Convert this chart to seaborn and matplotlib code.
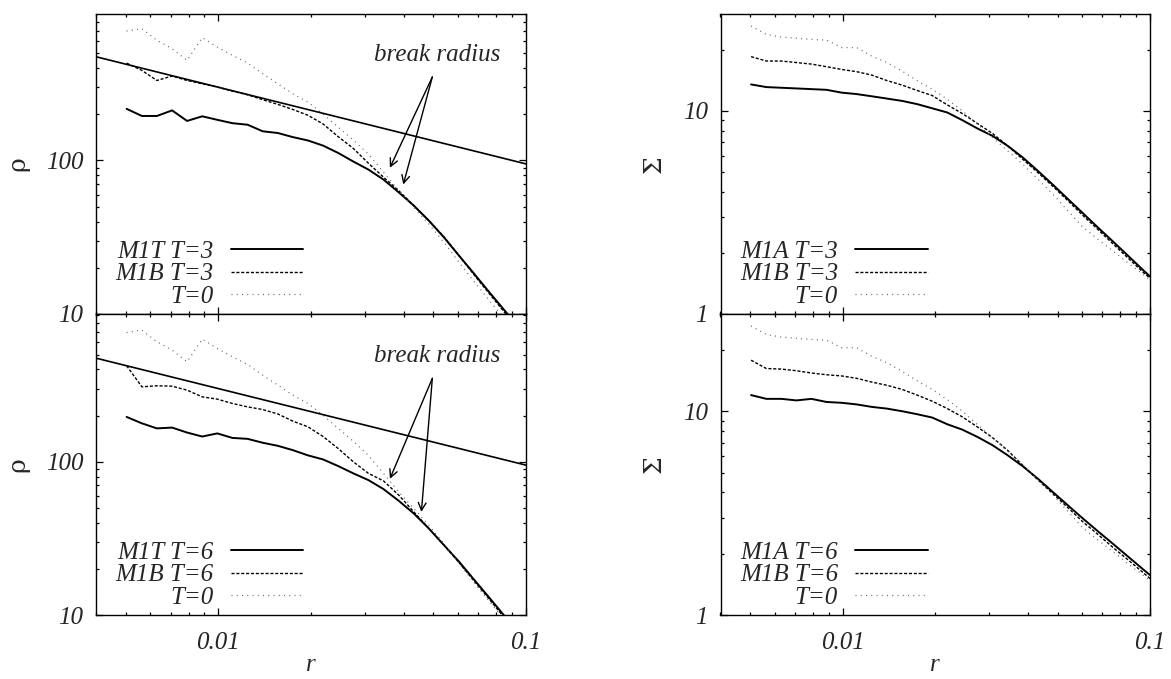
import numpy as np
import pandas as pd
import matplotlib
matplotlib.use("Agg")
import matplotlib.pyplot as plt
import seaborn as sns
from matplotlib.ticker import FixedLocator, NullFormatter, FixedFormatter

# ---------------- data ----------------
r = [0.00503, 0.00564, 0.00631, 0.00707, 0.00791, 0.00886, 0.00992, 0.0111,
     0.01244, 0.01393, 0.0156, 0.01746, 0.01955, 0.02189, 0.02451, 0.02744,
     0.03073, 0.03441, 0.03853, 0.04314, 0.04831, 0.05408, 0.06056, 0.0678,
     0.0759, 0.085, 0.0952, 0.1]

rho_T0 = [697, 722, 606, 535, 449, 631, 548, 484, 431, 367, 316, 272, 240, 201,
          165, 136, 110, 84, 63.7, 49.6, 38.6, 29.3, 21.7, 16.3, 12.3, 9.3, 7.0, 6.2]
rho_M1T_T3 = [217, 195, 195, 212, 181, 194, 184, 175, 171, 155, 151, 142, 135, 125,
              112, 98.5, 87.3, 75.1, 62.1, 50.9, 40.6, 31.6, 24.0, 18.3, 13.9, 10.6, 8.1, 7.2]
rho_M1B_T3 = [431, 386, 332, 355, 332, 316, 301, 283, 268, 249, 232, 215, 197, 173,
              143, 120, 96, 77.9, 63.7, 50.9, 40.6, 31.9, 24.0, 18.0, 13.6, 10.3, 7.8, 6.9]
rho_M1T_T6 = [196, 178, 165, 167, 155, 146, 153, 143, 141, 133, 127, 119, 110, 103.5,
              93.7, 84, 75.9, 66.3, 55.7, 46, 36.7, 28.6, 22.3, 17.0, 13.0, 9.9, 7.6, 6.8]
rho_M1B_T6 = [423, 308, 313, 311, 293, 265, 256, 240, 228, 219, 205, 184, 169, 146,
              122, 100, 84, 75, 60.7, 47.2, 36.7, 28.6, 22.0, 16.7, 12.7, 9.6, 7.3, 6.5]

sig_T0 = [26.2, 23.8, 23.1, 22.8, 22.5, 22.3, 20.5, 20.5, 18.6, 17.3, 15.7, 14.1, 12.8,
          11.4, 10.0, 8.6, 7.39, 6.36, 5.47, 4.61, 3.89, 3.22, 2.67, 2.33, 2.04, 1.78, 1.56, 1.47]
sig_M1A_T3 = [13.5, 13.1, 13.0, 12.9, 12.8, 12.7, 12.3, 12.1, 11.8, 11.5, 11.2, 10.8, 10.3,
              9.82, 9.0, 8.19, 7.53, 6.73, 5.9, 5.07, 4.33, 3.68, 3.13, 2.66, 2.27, 1.93, 1.64, 1.53]
sig_M1B_T3 = [18.5, 17.6, 17.6, 17.3, 17.0, 16.5, 16.0, 15.6, 15.0, 14.1, 13.4, 12.6, 11.9,
              10.7, 9.7, 8.67, 7.74, 6.73, 5.78, 4.97, 4.25, 3.61, 3.05, 2.60, 2.21, 1.88, 1.60, 1.50]
sig_M1A_T6 = [12.0, 11.5, 11.5, 11.3, 11.5, 11.1, 11.0, 10.8, 10.5, 10.3, 10.0, 9.67, 9.31,
              8.63, 8.12, 7.48, 6.81, 6.08, 5.37, 4.67, 4.01, 3.45, 2.97, 2.57, 2.23, 1.93, 1.67, 1.57]
sig_M1B_T6 = [17.8, 16.2, 16.1, 15.8, 15.4, 15.1, 14.9, 14.5, 13.9, 13.4, 12.8, 12.0, 11.2,
              10.3, 9.38, 8.37, 7.42, 6.43, 5.42, 4.61, 3.94, 3.36, 2.86, 2.48, 2.14, 1.86, 1.61, 1.51]

# reference power-law line (endpoints)
ref_r = [0.004, 0.1]
ref_rho = [474, 95]

# break radius annotation points
break_text = (0.0514, 490)
arrow_tail = (0.0496, 350)
heads_top = [(0.0361, 89.6), (0.0399, 69.7)]
heads_bot = [(0.0361, 77.3), (0.0457, 47.0)]

xticks = [0.01, 0.1]
xticklabels = ["0.01", "0.1"]
left_yticks = [10, 100]
left_yticklabels = ["10", "100"]
right_yticks = [1, 10]
right_yticklabels = ["1", "10"]

legend_top_left = ["M1T T=3", "M1B T=3", "T=0"]
legend_bot_left = ["M1T T=6", "M1B T=6", "T=0"]
legend_top_right = ["M1A T=3", "M1B T=3", "T=0"]
legend_bot_right = ["M1A T=6", "M1B T=6", "T=0"]

# ---------------- style ----------------
sns.set_style("ticks")
plt.rcParams['font.family'] = ['Liberation Serif', 'DejaVu Serif']
FS = 18

W, H = 1171, 679
fig = plt.figure(figsize=(W / 100, H / 100), dpi=100)

def ax_rect(x0, y0, x1, y1):
    return [x0 / W, (H - y1) / H, (x1 - x0) / W, (y1 - y0) / H]

ax_tl = fig.add_axes(ax_rect(96, 14, 526, 314))
ax_bl = fig.add_axes(ax_rect(96, 314, 526, 615))
ax_tr = fig.add_axes(ax_rect(720.5, 14, 1150, 314))
ax_br = fig.add_axes(ax_rect(720.5, 314, 1150, 615))

solid_kw = dict(color="black", linewidth=1.4, linestyle="-")
dash_kw = dict(color="black", linewidth=1.0, linestyle=(0, (2.2, 1.3)))
dot_kw = dict(color="#666666", linewidth=0.9, linestyle=(0, (0.8, 3.4)))


def draw_panel(ax, y_solid, y_dash, y_dot, labels, ylim, yticks, yticklabels, ylabel, show_x):
    ax.set_xscale("log")
    ax.set_yscale("log")
    l1 = sns.lineplot(x=r, y=y_solid, ax=ax, estimator=None, sort=False, **solid_kw).lines[-1]
    l2 = sns.lineplot(x=r, y=y_dash, ax=ax, estimator=None, sort=False, **dash_kw).lines[-1]
    l3 = sns.lineplot(x=r, y=y_dot, ax=ax, estimator=None, sort=False, **dot_kw).lines[-1]
    ax.set_xlim(0.004, 0.1)
    ax.set_ylim(*ylim)
    lo, hi = ylim
    minors_y = [m * 10 ** e for e in range(-1, 4) for m in range(2, 10)]
    minors_y = [v for v in minors_y if lo < v < hi]
    ax.yaxis.set_major_locator(FixedLocator(yticks))
    ax.yaxis.set_major_formatter(FixedFormatter(yticklabels))
    ax.yaxis.set_minor_locator(FixedLocator(minors_y))
    ax.yaxis.set_minor_formatter(NullFormatter())
    minors_x = [m * 10 ** e for e in (-3, -2) for m in range(2, 10)]
    minors_x = [v for v in minors_x if 0.004 <= v < 0.1]
    ax.xaxis.set_major_locator(FixedLocator(xticks))
    ax.xaxis.set_minor_locator(FixedLocator(minors_x))
    ax.xaxis.set_minor_formatter(NullFormatter())
    if show_x:
        ax.xaxis.set_major_formatter(FixedFormatter(xticklabels))
        ax.set_xlabel("r", fontsize=FS, style="italic", labelpad=0)
    else:
        ax.xaxis.set_major_formatter(NullFormatter())
    ax.tick_params(which="both", direction="in", top=True, right=True,
                   labelsize=FS, width=0.9, color="black")
    ax.tick_params(which="major", length=5)
    ax.tick_params(axis="y", which="major", pad=9)
    ax.tick_params(axis="x", which="major", pad=12)
    ax.tick_params(which="minor", length=2.5)
    for lab in ax.get_xticklabels() + ax.get_yticklabels():
        lab.set_fontstyle("italic")
    ax.set_ylabel(ylabel, fontsize=FS, family=['DejaVu Serif'])
    for s in ax.spines.values():
        s.set_linewidth(1.0)
        s.set_color("black")
    ax.legend([l1, l2, l3], labels, loc="lower left", bbox_to_anchor=(0.045, 0.02),
              frameon=False, markerfirst=False, borderpad=0, borderaxespad=0,
              handlelength=2.9, handletextpad=0.7, labelspacing=0.0,
              prop=dict(family="Liberation Serif", style="italic", size=FS))
    return ax


draw_panel(ax_tl, rho_M1T_T3, rho_M1B_T3, rho_T0, legend_top_left, (10, 900),
           left_yticks, left_yticklabels, "ρ", False)
draw_panel(ax_bl, rho_M1T_T6, rho_M1B_T6, rho_T0, legend_bot_left, (10, 920),
           left_yticks, left_yticklabels, "ρ", True)
draw_panel(ax_tr, sig_M1A_T3, sig_M1B_T3, sig_T0, legend_top_right, (1, 30),
           right_yticks, right_yticklabels, "Σ", False)
draw_panel(ax_br, sig_M1A_T6, sig_M1B_T6, sig_T0, legend_bot_right, (1, 30),
           right_yticks, right_yticklabels, "Σ", True)

for ax, heads in ((ax_tl, heads_top), (ax_bl, heads_bot)):
    sns.lineplot(x=ref_r, y=ref_rho, ax=ax, estimator=None, color="black", linewidth=1.2)
    ax.text(break_text[0], break_text[1], "break radius", fontsize=FS, style="italic",
            ha="center", va="center")
    for hx, hy in heads:
        ax.annotate("", xy=(hx, hy), xytext=arrow_tail,
                    arrowprops=dict(arrowstyle="->", color="black", lw=1.0,
                                    shrinkA=0, shrinkB=0, mutation_scale=14))

for ax in (ax_tl, ax_bl):
    ax.yaxis.set_label_coords(-0.155, 0.5)
for ax in (ax_tr, ax_br):
    ax.yaxis.set_label_coords(-0.128, 0.5)

fig.savefig("out.png", dpi=100)
